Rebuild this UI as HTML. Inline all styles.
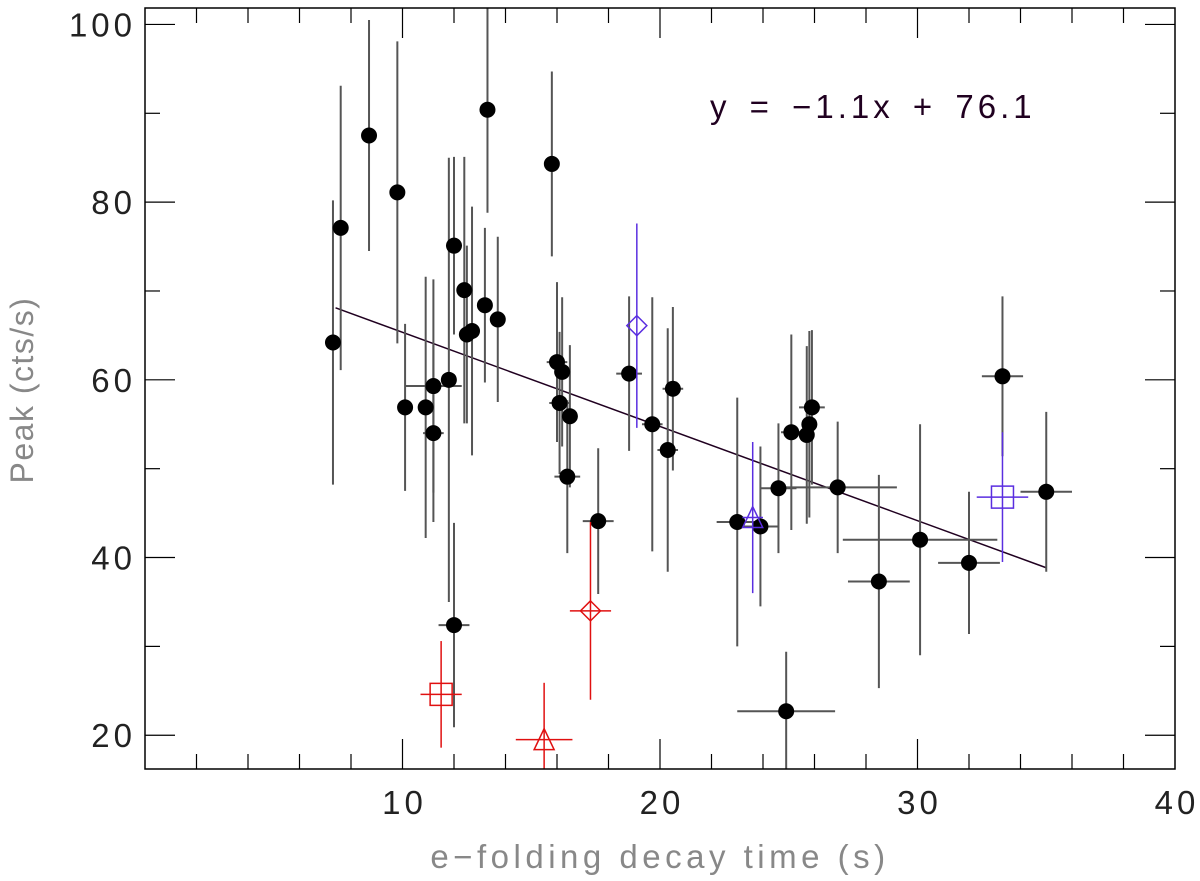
<!DOCTYPE html>
<html><head><meta charset="utf-8"><style>
body{margin:0;background:#fff;}
svg text{font-family:"Liberation Sans",sans-serif;}
</style></head><body>
<svg id="chart" width="1200" height="876" viewBox="0 0 1200 876" xmlns="http://www.w3.org/2000/svg">
<defs><clipPath id="pc"><rect x="145" y="8" width="1030" height="761"/></clipPath></defs>
<g id="marks" clip-path="url(#pc)"></g>
<g id="axes"></g>
</svg>
<script>
const blackX=[7.3,7.6,8.7,9.8,10.1,10.9,11.2,11.2,11.8,12.0,12.0,12.4,12.5,12.7,13.2,13.3,13.7,15.8,16.0,16.1,16.2,16.5,16.4,17.6,18.8,19.7,20.3,20.5,23.0,23.9,24.6,25.1,25.7,25.8,25.9,26.9,28.5,30.1,32.0,33.3,35.0,24.9];
const blackY=[64.2,77.1,87.5,81.1,56.9,56.9,59.3,54.0,60.0,32.4,75.1,70.1,65.1,65.5,68.4,90.4,66.8,84.3,62.0,57.4,60.9,55.9,49.1,44.1,60.7,55.0,52.1,59.0,44.0,43.5,47.8,54.1,53.8,55.0,56.9,47.9,37.3,42.0,39.4,60.4,47.4,22.7];
const blackYErr=[16,16,13,17,9.4,14.7,12,10,25,11.5,10,15,10,14,8.7,11.6,9.3,10.4,9,8,8.4,8,8.6,8.2,8.7,14.3,13.7,9.2,14,9,7.3,11,10,10.5,8.7,7.4,12,13,8,9,9,6.7];
const blackXErr=[0,0,0,0,0,0,1.1,0.4,0,0.6,0,0,0.3,0,0,0,0.3,0,0.4,0.4,0.3,0.3,0.5,0.6,0.5,0.4,0.4,0.4,0.8,0.7,0.7,0.4,0.3,0.3,0.5,2.3,1.2,3,1.2,0.8,1,1.9];
const redX=[11.5,15.5,17.3], redY=[24.6,19.5,34.0], redYErr=[6,6.4,10], redXErr=[0.8,1.1,0.8];
const purpleX=[19.1,23.6,33.3], purpleY=[66.1,44.5,46.8], purpleYErr=[11.5,8.5,7.3], purpleXErr=[0,0.4,1];
const specialShapes=["square","triangle","diamond"];
const purpleShapes=["diamond","triangle","square"];
const fitSlope=-1.06, fitIntercept=75.95, fitRange=[7.4,35.0];
const xTicks=[10,20,30,40], yTicks=[20,40,60,80,100];

const NS="http://www.w3.org/2000/svg";
const X0=145,X1=1175,Y0=769,Y1=8;
const xmin=0,xmax=40,ymin=16.2,ymax=101.85;
const sx=v=>X0+(v-xmin)/(xmax-xmin)*(X1-X0);
const sy=v=>Y0-(v-ymin)/(ymax-ymin)*(Y0-Y1);
const marks=document.getElementById('marks'), axes=document.getElementById('axes');
function mk(tag,attrs,parent){const e=document.createElementNS(NS,tag);for(const k in attrs)e.setAttribute(k,attrs[k]);parent.appendChild(e);return e;}

let fl=mk('line',{x1:sx(fitRange[0]),y1:sy(fitSlope*fitRange[0]+fitIntercept),x2:sx(fitRange[1]),y2:sy(fitSlope*fitRange[1]+fitIntercept),stroke:'#200020','stroke-width':1.5},marks);



function errbars(x,y,ye,xe,col,w){
  const g=mk('g',{},marks);
  mk('line',{x1:sx(x),x2:sx(x),y1:sy(y+ye),y2:sy(y-ye),stroke:col,'stroke-width':w},g);
  if(xe>0) mk('line',{x1:sx(x-xe),x2:sx(x+xe),y1:sy(y),y2:sy(y),stroke:col,'stroke-width':w},g);
  return g;
}
for(let i=0;i<blackX.length;i++){
  const g=errbars(blackX[i],blackY[i],blackYErr[i],blackXErr[i],'#555',2);
  
  
}
for(let i=0;i<blackX.length;i++){
  const c=mk('circle',{cx:sx(blackX[i]),cy:sy(blackY[i]),r:8,fill:'#000'},marks);
  
  
}
function shape(kind,x,y,col){
  const cx=sx(x),cy=sy(y);let e;
  if(kind==='square') e=mk('rect',{x:cx-11,y:cy-11,width:22,height:22,fill:'none',stroke:col,'stroke-width':1.5},marks);
  else if(kind==='diamond') e=mk('polygon',{points:`${cx},${cy-10} ${cx+10},${cy} ${cx},${cy+10} ${cx-10},${cy}`,fill:'none',stroke:col,'stroke-width':1.5},marks);
  else e=mk('polygon',{points:`${cx},${cy-11} ${cx+10},${cy+10} ${cx-10},${cy+10}`,fill:'none',stroke:col,'stroke-width':1.5},marks);
  return e;
}
for(let i=0;i<redX.length;i++){
  const g=errbars(redX[i],redY[i],redYErr[i],redXErr[i],'#e01010',1.5);
  
  
  const s=shape(specialShapes[i],redX[i],redY[i],'#e01010');
  
  
}
for(let i=0;i<purpleX.length;i++){
  const g=errbars(purpleX[i],purpleY[i],purpleYErr[i],purpleXErr[i],'#5a2ee0',1.5);
  
  
  const s=shape(purpleShapes[i],purpleX[i],purpleY[i],'#5a2ee0');
  
  
}

let fr=mk('rect',{x:X0,y:Y1,width:X1-X0,height:Y0-Y1,fill:'none',stroke:'#000','stroke-width':1.5},axes);


for(let v=2;v<40;v+=2){
  const L=(v%10===0)?30:15;
  mk('line',{x1:sx(v),x2:sx(v),y1:Y0,y2:Y0-L,stroke:'#000','stroke-width':1.2},axes);
  mk('line',{x1:sx(v),x2:sx(v),y1:Y1,y2:Y1+L,stroke:'#000','stroke-width':1.2},axes);
}
for(let v=20;v<=100;v+=10){
  const L=(v%20===0)?30:15;
  mk('line',{x1:X0,x2:X0+L,y1:sy(v),y2:sy(v),stroke:'#000','stroke-width':1.2},axes);
  mk('line',{x1:X1,x2:X1-L,y1:sy(v),y2:sy(v),stroke:'#000','stroke-width':1.2},axes);
}
for(const v of xTicks){
  const t=mk('text',{x:sx(v)+2,y:814,'text-anchor':'middle','font-size':33,fill:'#222','letter-spacing':4},axes);
  t.textContent=v;
  
  
}
for(const v of yTicks){
  const t=mk('text',{x:136,y:sy(v)+12,'text-anchor':'end','font-size':33,fill:'#222','letter-spacing':4},axes);
  t.textContent=v;
  
  
}
let xt=mk('text',{x:660,y:868,'text-anchor':'middle','font-size':33,fill:'#888','letter-spacing':4.5},axes);
xt.textContent='e\u2212folding decay time (s)';


let yt=mk('text',{x:0,y:0,'text-anchor':'middle','font-size':32,fill:'#888','letter-spacing':1.5,transform:'translate(33,390) rotate(-90)'},axes);
yt.textContent='Peak (cts/s)';


let eq=mk('text',{x:710,y:118,'font-size':33,fill:'#200020','letter-spacing':4,'word-spacing':6},axes);
eq.textContent='y = \u22121.1x + 76.1';


</script>
</body></html>
